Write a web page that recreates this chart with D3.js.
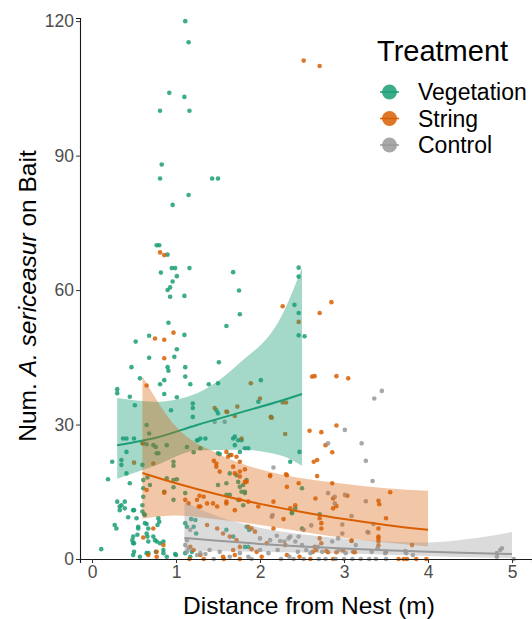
<!DOCTYPE html>
<html>
<head>
<meta charset="utf-8">
<script src="https://cdn.jsdelivr.net/npm/d3@7"></script>
<style>
  body { margin: 0; background: #fff; }
  svg text { font-family: "Liberation Sans", Arial, sans-serif; }
</style>
</head>
<body>
<div id="draw-area"></div>
<script>
// treatments
const groups = ['Vegetation', 'String', 'Control'];
const colors = ['#1b9e77', '#d95f02', '#999999'];
const xTicks = [0, 1, 2, 3, 4, 5];
const yTicks = [0, 30, 60, 90, 120];

// raw points [distance, count]
const vegetationPts = [
  [1.11,120],[1.15,115.3],[0.92,104],[1.10,103.1],[0.81,100],[1.16,100],[0.83,88],[0.81,84.9],[1.43,84.9],[1.50,84.9],
  [1.15,81.2],[0.96,79],[0.77,70],[0.80,70],[0.90,67.9],[0.82,63.9],[0.95,64.9],[0.99,64.9],[1.16,64.9],[1.01,63.1],
  [1.68,64],[0.96,61.9],[0.90,60],[0.93,60.6],[1.75,59.9],[0.93,58.5],[1.10,58.7],[2.46,65],[2.46,63],
  [1.76,54.6],[1.60,52],[0.91,52.7],[0.68,49.8],[1.10,50],[0.52,48.5],[1.01,46.8],[0.68,44.9],[0.98,45.1],[1.51,43.9],
  [0.47,42.8],[0.90,42.8],[0.91,42],[1.11,42.8],[1.11,40.7],[0.57,40.3],[0.86,39.9],[0.81,39],[1.17,39],[1.39,39],
  [1.50,39.2],[0.30,37.9],[0.30,37],[0.45,36.2],[0.86,36.8],[1.01,36.1],[0.51,34.3],[1.20,34.7],[1.20,33.7],[1.50,32.5],
  [1.20,31.7],[1.98,35.1],[2.01,39.9],[0.94,33.2],[1.48,33.2],[2.41,56.7],[2.46,54.9],[2.46,49.9],[2.53,49.7],
  [0.65,29.9],[0.68,28],[0.37,26.9],[0.41,26.9],[0.50,26.9],[0.61,25.8],[0.65,25.6],[0.73,25.4],[0.76,25],[0.79,23.6],
  [0.89,25.4],[1.13,25],[1.29,24.7],[1.21,23.8],[1.25,26.5],[1.29,26.9],[1.78,26.5],[1.70,27.3],[1.82,24.7],[1.86,24.7],
  [1.64,23.2],[1.50,23.6],[0.24,21.7],[0.35,22.1],[0.35,21],[0.41,19.1],[0.60,21],[0.97,21.7],[0.97,20.8],[1.64,19.1],
  [1.80,16.5],[1.82,14.7],[0.19,17.8],[0.45,16.9],[0.61,17.6],[0.61,15.8],[0.61,13.9],[0.69,16.5],[0.97,17.6],[0.97,16],
  [1.11,14.7],[1.50,16.5],[1.60,16.9],[1.60,14.3],[0.97,13.2],[0.30,12.8],[0.33,11.7],[0.39,12.8],[0.33,10.9],[0.49,10.9],
  [0.27,7.6],[0.29,6.8],[0.53,9.1],[0.55,7.2],[0.63,9.8],[0.63,8.0],[0.67,6.8],[0.73,5.0],[0.75,4.2],[0.49,5.0],
  [0.49,3.5],[0.67,3.9],[0.11,2.2],[0.49,0.9],[0.57,0.5],[0.65,1.3],[0.85,2],[0.89,0.5],[0.99,1.1],[0.81,3.5],
  [1.11,1.3],[1.17,0.5],[1.11,8.0],[1.24,5.7],[1.60,6.5],[1.68,5.0],[1.84,7.2],[1.87,6.5],
  [1.35,26.9],[1.26,26.5],[1.68,26.9],[1.74,26.5],[1.70,25.4],[1.76,23.9],[1.52,23.4],[2.36,21.7],[2.50,15.8],
  [1.72,18.7],[1.74,17.2],[1.76,16.1],[1.78,15],[1.82,15],[1.84,17.6],[1.64,14.3],[1.74,13.2],[1.80,12.0],
  [2.38,10.2],[2.50,6.8],[1.82,2.7],[1.86,2.7],[2.47,23.9],[2.42,11.3],[2.38,10.4],[2.71,10],
  [0.41,23.9],[0.77,23.6],[0.66,18.2],[0.89,18],[1.01,17.8],[0.86,15],[0.35,12.0],[0.39,11.3],[0.50,10.9],[0.43,9.3],
  [0.60,12],[0.60,10.6],[0.62,10],[0.55,6.8],[0.65,7.8],[0.65,5.7],[0.66,5.0],[0.54,5.4],[0.48,4.2],[0.50,3.5],
  [0.77,3.9],[0.85,3.9],[0.50,1.6],[0.67,1.3],[0.76,1.6],[0.85,1.3],[1.00,0.9],[1.19,1.6],[1.13,7.2],[1.21,7.2],
  [1.23,8.7],[1.18,8.9],[0.79,9.1],[0.80,8.3],[0.78,7.6]
];
const stringPts = [
  [0.81,68.4],[0.86,67.8],[2.52,111.2],[2.71,110],[0.75,49.2],[0.86,48.9],[0.97,50.5],[0.86,44.8],[0.65,38.7],[1.46,33.7],
  [1.60,32.9],[1.73,34],[1.89,39.2],[2.13,31.6],[0.60,25.8],[1.60,23.9],[1.66,23.2],[1.72,22.8],[0.50,21.5],[0.73,21.3],
  [1.45,21.9],[1.48,21.3],[1.48,20.6],[1.52,19.5],[1.68,20.6],[1.70,19.1],[1.76,19.5],[1.76,18.4],[1.84,17.2],[1.82,17.2],
  [2.12,18.7],[0.65,15.4],[0.86,14.8],[1.28,14.1],[1.33,13.9],[1.11,13.2],[1.15,12.4],[1.25,13.2],[1.29,11.7],[1.37,12.4],
  [1.49,11.7],[1.60,12.4],[1.70,10.9],[1.76,13.2],[1.86,12.8],[0.73,6.8],[0.61,4.8],[0.85,3.1],[0.67,0.9],[0.77,1.6],
  [0.77,0.5],[1.17,2.7],[1.21,2.0],[1.29,0.9],[1.37,7.6],[1.49,6.8],[1.56,5.7],[1.64,5.0],[1.72,4.2],[1.76,2.7],
  [1.68,2.0],[1.16,0],[1.33,0],[1.57,0],[1.76,0],[1.78,26.9],[2.30,27.9],[1.62,22.8],[1.76,21.7],[1.82,20.0],
  [2.12,18.5],[2.32,18.7],[1.27,11.7],[1.44,12.4],[1.60,12.8],[1.98,11.7],[2.16,12.8],[2.36,11.3],[2.42,12.0],[2.28,8.9],
  [1.86,7.2],[1.90,6.8],[1.94,6.1],[2.08,3.5],[2.30,3.1],[1.90,2.2],[1.96,1.6],[1.56,0.5],[1.70,0.9],[2.02,0.5],
  [2.32,0.9],[2.27,56.4],[2.46,52.9],[2.00,35.8],[2.13,31.7],[1.61,32.8],[1.70,31.9],[2.27,34.9],[2.31,34.9],
  [2.85,57.3],[2.71,54.9],[2.62,40.7],[2.65,40.8],[2.91,40.8],[3.05,40.3],[2.14,31.5],[2.59,28.6],[2.73,28.3],[2.91,29.8],
  [2.78,25.4],[2.86,23.8],[2.64,21.7],[2.68,22.1],[2.31,18.9],[2.46,16.9],[2.68,18.5],[2.86,16.9],[2.32,16.1],[2.87,13.5],
  [3.04,14.1],[3.55,14.9],[2.66,13.5],[3.41,13.0],[3.42,12.2],[2.87,11.3],[2.91,11.8],[3.50,9.1],[2.71,9.1],[2.73,8.0],
  [2.73,6.8],[2.16,6.8],[3.09,4.1],[3.41,6.8],[3.41,4.6],[3.41,3.9],[3.81,3.1],[2.71,4.6],[2.73,3.5],[2.65,2.7],
  [2.81,1.5],[2.99,1.9],[3.11,1.6],[3.71,0],[3.75,0],[3.98,0],[3.41,5.0],[3.41,3.0],[3.09,4.0],[2.63,1.6],
  [2.67,2.0],[2.79,1.8],[2.91,1.5],[3.13,1.5],[3.50,1.6],[3.65,0],[3.86,0],[2.87,0],[2.47,0.5],[2.60,0]
];
const controlPts = [
  [1.46,30.6],[1.17,6.5],[1.13,4.2],[1.58,30.6],[2.16,20.4],[2.14,9.4],[2.00,4.6],[2.34,4.6],[2.42,3.9],[2.46,5.0],
  [2.50,3.1],[3.36,35.8],[3.45,37.5],[3.01,28.8],[3.21,25.8],[2.81,25.8],[3.26,21.9],[3.34,17.4],[2.81,14.7],[2.89,13.9],
  [3.01,14.3],[3.26,12.9],[2.15,9.8],[2.61,7.5],[2.52,6.5],[2.98,7.7],[3.28,6.0],[2.93,4.6],[3.73,1.8],[4.82,1.3],
  [4.86,2.0],[4.88,2.4],[4.82,0.5],[5.02,0],[2.89,12.4],[3.09,9.6],[3.35,7.8],[2.98,5.7],[3.29,5.9],
  [1.11,3.1],[1.15,2.4],[1.29,1.3],[1.40,2.0],[1.52,1.6],[1.64,0.5],[1.76,1.3],[1.86,0.5],[2.00,2.0],[2.10,1.3],
  [2.21,2.0],[2.35,0.5],[2.45,1.6],[1.45,0],[1.90,0],[2.25,0],[2.40,0],[2.55,2.0],[2.60,1.3],[2.69,2.7],
  [2.74,1.6],[2.86,3.9],[2.94,2.0],[3.02,1.3],[3.14,3.1],[3.33,1.6],[3.40,2.4],[3.49,1.3],[3.74,1.3],[3.82,0.9],
  [2.52,0],[2.70,0],[2.78,0],[2.90,0],[3.00,0],[3.10,0],[3.20,0],[3.30,0],[3.38,0],[3.50,0],
  [2.24,4.0],[2.36,5.0],[2.29,3.9],[2.12,4.2],[2.20,5.2],[1.13,1.6],[1.25,0.9],[1.35,1.1]
];

// fitted curves and 95% bands
const vegFitX = [0.3, 0.75, 1.25, 1.75, 2.25, 2.5];
const vegFit  = [25.4, 27.0, 29.9, 32.6, 35.3, 36.8];
const vegLo   = [17.9, 20.8, 24.2, 24.4, 23.1, 20.8];
const vegHi   = [35.9, 35.1, 37.0, 43.6, 54.0, 65.0];

const strFitX = [0.6, 1.0, 1.5, 2.0, 2.5, 3.0, 3.5, 4.0];
const strFit  = [19.2, 16.9, 14.4, 12.3, 10.5, 8.9, 7.6, 6.5];
const strLo   = [9.0, 9.7, 8.8, 7.6, 6.1, 4.7, 3.7, 2.8];
const strHi   = [40.8, 29.5, 23.5, 20.0, 18.0, 16.8, 15.8, 15.2];

const ctlFitX = [1.1, 1.5, 2.0, 2.5, 3.0, 3.5, 4.0, 4.5, 5.0];
const ctlFit  = [4.7, 4.06, 3.37, 2.8, 2.32, 1.93, 1.6, 1.33, 1.1];
const ctlLo   = [1.74, 1.73, 1.62, 1.43, 1.2, 0.96, 0.69, 0.39, 0.2];
const ctlHi   = [12.7, 9.5, 7.0, 5.5, 4.5, 3.9, 3.7, 4.5, 6.0];

(function () {
    let width = 532, height = 619;
    let svg = d3.select('#draw-area').append('svg')
        .attr('width', width)
        .attr('height', height);

    // panel: left 80, right 532, top 18, bottom 559
    let x = d3.scaleLinear().domain([-0.143, 5.238]).range([80, 532]);
    let y = d3.scaleLinear().domain([0, 120.7]).range([559, 18]);

    let pts = [vegetationPts, stringPts, controlPts];
    let fits = [
        { fx: vegFitX, f: vegFit, lo: vegLo, hi: vegHi },
        { fx: strFitX, f: strFit, lo: strLo, hi: strHi },
        { fx: ctlFitX, f: ctlFit, lo: ctlLo, hi: ctlHi }
    ];

    //點
    let pg = svg.append('g').attr('class', 'points');
    pts.forEach((arr, gi) => {
        pg.selectAll(null)
            .data(arr)
            .enter()
            .append('circle')
            .attr('cx', d => x(d[0]))
            .attr('cy', d => y(d[1]))
            .attr('r', 2.3)
            .attr('fill', colors[gi])
            .attr('fill-opacity', 0.85);
    });

    //信賴區間 + 擬合線
    let area = d3.area()
        .x(d => x(d.x)).y0(d => y(d.lo)).y1(d => y(d.hi))
        .curve(d3.curveMonotoneX);
    let line = d3.line()
        .x(d => x(d.x)).y(d => y(d.f))
        .curve(d3.curveMonotoneX);
    let ribbonOpacity = [0.4, 0.35, 0.35];
    fits.forEach((ft, gi) => {
        let rows = ft.fx.map((v, i) => ({ x: v, f: ft.f[i], lo: ft.lo[i], hi: ft.hi[i] }));
        svg.append('path')
            .datum(rows)
            .attr('d', area)
            .attr('fill', colors[gi])
            .attr('fill-opacity', ribbonOpacity[gi]);
        svg.append('path')
            .datum(rows)
            .attr('d', line)
            .attr('fill', 'none')
            .attr('stroke', colors[gi])
            .attr('stroke-width', 2);
    });

    //X軸
    let gx = svg.append('g')
        .attr('transform', 'translate(0,559)')
        .call(d3.axisBottom(x).tickValues(xTicks).tickFormat(d3.format('d'))
            .tickSizeOuter(0).tickSize(4).tickPadding(3));
    //Y軸
    let gy = svg.append('g')
        .attr('transform', 'translate(80,0)')
        .call(d3.axisLeft(y).tickValues(yTicks).tickFormat(d3.format('d'))
            .tickSizeOuter(0).tickSize(4).tickPadding(2));
    [gx, gy].forEach(g => {
        g.select('.domain').attr('stroke', '#1a1a1a').attr('stroke-width', 1.1);
        g.selectAll('.tick line').attr('stroke', '#333');
        g.selectAll('.tick text')
            .attr('fill', '#4d4d4d')
            .style('font-size', '17.5px')
            .style('font-family', '"Liberation Sans", Arial, sans-serif');
    });

    // axis titles
    svg.append('text')
        .attr('x', 309).attr('y', 614)
        .attr('text-anchor', 'middle')
        .style('font-size', '24.5px')
        .text('Distance from Nest (m)');

    let yt = svg.append('text')
        .attr('transform', 'translate(36,296) rotate(-90)')
        .attr('text-anchor', 'middle')
        .style('font-size', '24.5px');
    yt.append('tspan').text('Num. ');
    yt.append('tspan').style('font-style', 'italic').text('A. sericeasur');
    yt.append('tspan').text(' on Bait');

    //圖例
    let lg = svg.append('g').attr('class', 'legend');
    lg.append('text')
        .attr('x', 377).attr('y', 61)
        .style('font-size', '29px')
        .text('Treatment');
    let items = lg.selectAll('g.item')
        .data(groups)
        .enter()
        .append('g')
        .attr('class', 'item')
        .attr('transform', (d, i) => `translate(0,${92 + i * 26.5})`);
    items.append('line')
        .attr('x1', 380).attr('x2', 399)
        .attr('stroke', (d, i) => colors[i])
        .attr('stroke-width', 1.5);
    items.append('circle')
        .attr('cx', 389.5).attr('cy', 0).attr('r', 7.5)
        .attr('fill', (d, i) => colors[i])
        .attr('fill-opacity', 0.85);
    items.append('text')
        .attr('x', 418).attr('y', 0)
        .attr('dy', '0.36em')
        .style('font-size', '23px')
        .text(d => d);
})();
</script>
</body>
</html>
